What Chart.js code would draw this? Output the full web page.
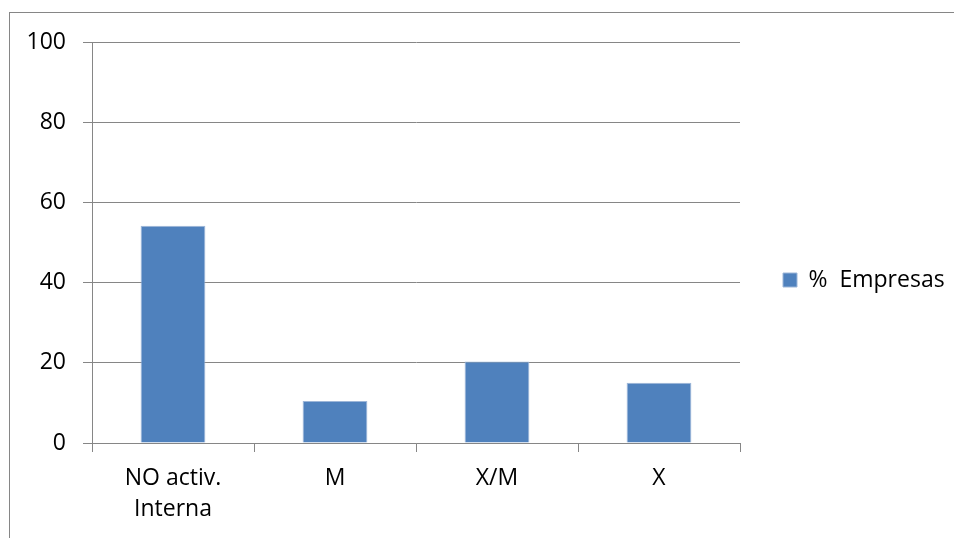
<!DOCTYPE html>
<html>
<head>
<meta charset="utf-8">
<script src="https://cdn.jsdelivr.net/npm/chart.js@4"></script>
<style>
  html, body { margin: 0; padding: 0; background: #fff; overflow: hidden; }
  #wrap { position: relative; width: 954px; height: 538px; }
  #frame { position: absolute; left: 9px; top: 12px; width: 1000px; height: 600px;
           border: 1px solid #868686; box-sizing: border-box; }
  #chart { position: absolute; left: 0; top: 0; }
</style>
</head>
<body>
<div id="wrap">
  <div id="frame"></div>
  <canvas id="chart" width="954" height="538"></canvas>
</div>
<script>
const categories = [['NO activ.', 'Interna'], 'M', 'X/M', 'X'];
const empresas = [54.2, 10.5, 20.3, 15];
const seriesName = '%  Empresas';
const yTicks = [0, 20, 40, 60, 80, 100];

const gridGray = '#868686';
const font = { family: '"Open Sans", sans-serif', size: 23 };

// nudge the legend so it sits on the middle of the frame
const legendShift = {
  id: 'legendShift',
  afterLayout(chart) {
    const lg = chart.legend;
    lg.top -= 10;
    lg.bottom -= 10;
  }
};

const ctx = document.getElementById('chart').getContext('2d');
const chart = new Chart(ctx, {
  type: 'bar',
  data: {
    labels: categories,
    datasets: [{
      label: seriesName,
      data: empresas,
      backgroundColor: '#4F81BD',
      borderColor: '#9DB6D8',
      borderWidth: 1,
      categoryPercentage: 1,
      barPercentage: 0.4
    }]
  },
  options: {
    responsive: false,
    animation: false,
    layout: { padding: { top: 42, left: 0, right: 0, bottom: 0 } },
    plugins: {
      tooltip: { enabled: false },
      legend: {
        position: 'right',
        maxWidth: 214,
        labels: {
          boxWidth: 14,
          boxHeight: 14,
          padding: 43,
          color: '#000',
          font: font
        }
      }
    },
    scales: {
      x: {
        grid: {
          offset: true,
          drawOnChartArea: false,
          drawTicks: true,
          tickLength: 9,
          color: gridGray,
          lineWidth: 1
        },
        border: { color: gridGray, width: 1 },
        ticks: { color: '#000', font: { ...font, lineHeight: 1.36 }, padding: 11, maxRotation: 0 },
        afterFit(axis) { axis.height = 95; }
      },
      y: {
        min: 0,
        max: 100,
        afterBuildTicks(axis) { axis.ticks = yTicks.map(v => ({ value: v })); },
        grid: { color: gridGray, lineWidth: 1, tickLength: 9 },
        border: { color: gridGray, width: 1 },
        ticks: { color: '#000', font: font, padding: 17 },
        afterFit(axis) { axis.width = 92; }
      }
    }
  },
  plugins: [legendShift]
});
</script>
</body>
</html>
